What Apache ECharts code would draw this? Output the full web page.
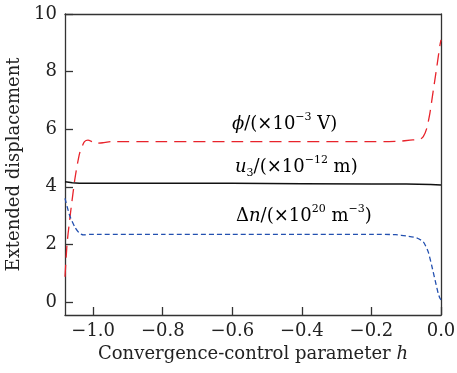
<!DOCTYPE html>
<html>
<head>
<meta charset="utf-8">
<script src="https://cdn.jsdelivr.net/npm/echarts@6/dist/echarts.min.js"></script>
<style>
  html, body { margin: 0; padding: 0; background: #fff; }
  #chart { width: 457px; height: 373px; }
</style>
</head>
<body>
<div id="chart"></div>
<script>
// 数据：估计值
var phiH   = [-1.081, -1.075, -1.069, -1.063, -1.053, -1.046, -1.039, -1.032, -1.025, -1.015, -1.003, -0.991, -0.972, -0.95, -0.8, -0.6, -0.4, -0.2, -0.15, -0.12, -0.089, -0.06, -0.051, -0.041, -0.032, -0.022, -0.012, -0.003, 0.0]
var phiVal = [0.88, 2.04, 2.7, 3.31, 4.24, 4.75, 5.16, 5.4, 5.57, 5.62, 5.57, 5.51, 5.53, 5.57, 5.57, 5.57, 5.57, 5.57, 5.57, 5.58, 5.62, 5.65, 5.74, 6.03, 6.55, 7.36, 8.17, 8.92, 9.1]

var u3H   = [-1.081, -1.07, -1.06, -1.04, -1.0, -0.8, -0.6, -0.4, -0.2, -0.1, -0.03, 0.0]
var u3Val = [4.18, 4.16, 4.14, 4.12, 4.12, 4.12, 4.12, 4.11, 4.1, 4.1, 4.08, 4.06]

var dnH   = [-1.081, -1.068, -1.053, -1.039, -1.027, -1.01, -0.98, -0.8, -0.6, -0.4, -0.2, -0.13, -0.099, -0.07, -0.051, -0.037, -0.027, -0.017, -0.008, -0.003, 0.0]
var dnVal = [3.6, 3.02, 2.61, 2.38, 2.33, 2.35, 2.35, 2.35, 2.35, 2.35, 2.35, 2.34, 2.29, 2.23, 2.09, 1.75, 1.28, 0.76, 0.3, 0.13, 0.08]

var xTicks = [-1.0, -0.8, -0.6, -0.4, -0.2, 0.0]
var yTicks = [0, 2, 4, 6, 8, 10]

var X_MIN = -1.081, X_MAX = 0
var Y_MIN = -0.45, Y_MAX = 10

function zip(a, b) {
  var out = []
  for (var i = 0; i < a.length; i++) out.push([a[i], b[i]])
  return out
}

var FONT = 'DejaVu Serif'
function txt() { return { fontFamily: FONT, fontSize: 18, color: '#222' } }
function axisLn() { return { show: true, onZero: false, lineStyle: { color: '#333', width: 1.3 } } }

var chart = echarts.init(document.getElementById('chart'))

// 朝内的刻度线：用 markLine 画（刻度长度约 8px 换算成数据单位）
var tickLenY = (Y_MAX - Y_MIN) * 8 / 301
var tickLenX = (X_MAX - X_MIN) * 8 / 376
var tickLines = []
xTicks.forEach(function (v) {
  tickLines.push([{ coord: [v, Y_MIN] }, { coord: [v, Y_MIN + tickLenY] }])
})
yTicks.forEach(function (v) {
  tickLines.push([{ coord: [X_MIN, v] }, { coord: [X_MIN + tickLenX, v] }])
})

var richLbl = {
  n:   { fontFamily: FONT, fontSize: 18, color: '#222', lineHeight: 24 },
  i:   { fontFamily: FONT, fontSize: 18, fontStyle: 'italic', color: '#222', lineHeight: 24 },
  s:   { fontFamily: FONT, fontSize: 11, color: '#222', lineHeight: 15, verticalAlign: 'top' },
  sub: { fontFamily: FONT, fontSize: 11, color: '#222', lineHeight: 13, verticalAlign: 'bottom' }
}

var xLabel = txt()
xLabel.margin = 7
xLabel.customValues = xTicks
xLabel.formatter = function (v) { return v.toFixed(1).replace('-', '\u2212') }
var yLabel = txt()
yLabel.margin = 8
yLabel.customValues = yTicks

var option = {
  animation: false,
  grid: { left: 65, top: 14, right: 16, bottom: 58, outerBoundsMode: 'none' },
  xAxis: [
    {
      type: 'value',
      min: X_MIN, max: X_MAX,
      name: 'Convergence-control parameter {i|h}',
      nameLocation: 'middle',
      nameGap: 30,
      nameTextStyle: {
        fontFamily: FONT, fontSize: 18, color: '#222',
        rich: { i: { fontFamily: FONT, fontSize: 18, fontStyle: 'italic', color: '#222' } }
      },
      splitLine: { show: false },
      axisLine: axisLn(),
      axisTick: { show: false },
      axisLabel: xLabel
    },
    // 上边框
    {
      type: 'value', position: 'top', min: X_MIN, max: X_MAX,
      axisLine: axisLn(), axisTick: { show: false }, axisLabel: { show: false }, splitLine: { show: false }
    }
  ],
  yAxis: [
    {
      type: 'value',
      min: Y_MIN, max: Y_MAX,
      name: 'Extended displacement',
      nameLocation: 'middle',
      nameGap: 35,
      nameTextStyle: txt(),
      splitLine: { show: false },
      axisLine: axisLn(),
      axisTick: { show: false },
      axisLabel: yLabel
    },
    // 右边框
    {
      type: 'value', position: 'right', min: Y_MIN, max: Y_MAX,
      axisLine: axisLn(), axisTick: { show: false }, axisLabel: { show: false }, splitLine: { show: false }
    }
  ],
  series: [
    {
      name: 'phi', type: 'line', data: zip(phiH, phiVal),
      showSymbol: false, smooth: 0.2,
      lineStyle: { color: '#e8232b', width: 1.3, type: [12, 7] }
    },
    {
      name: 'u3', type: 'line', data: zip(u3H, u3Val),
      showSymbol: false,
      lineStyle: { color: '#111', width: 1.5 }
    },
    {
      name: 'dn', type: 'line', data: zip(dnH, dnVal),
      showSymbol: false, smooth: 0.2,
      lineStyle: { color: '#2350b0', width: 1.3, type: [5, 3] }
    },
    {
      name: 'ticks', type: 'line', data: [],
      silent: true,
      markLine: {
        silent: true,
        symbol: ['none', 'none'],
        label: { show: false },
        lineStyle: { color: '#333', width: 1.3, type: 'solid' },
        emphasis: { disabled: true },
        data: tickLines
      }
    }
  ],
  graphic: [
    { type: 'text', left: 232, top: 112, style: { text: '{i|ϕ}{n|/(×10}{s|−3}{n| V)}', rich: richLbl } },
    { type: 'text', left: 235, top: 155, style: { text: '{i|u}{sub|3}{n|/(×10}{s|−12}{n| m)}', rich: richLbl } },
    { type: 'text', left: 236, top: 204, style: { text: '{n|Δ}{i|n}{n|/(×10}{s|20}{n| m}{s|−3}{n|)}', rich: richLbl } }
  ]
}

chart.setOption(option)
</script>
</body>
</html>
